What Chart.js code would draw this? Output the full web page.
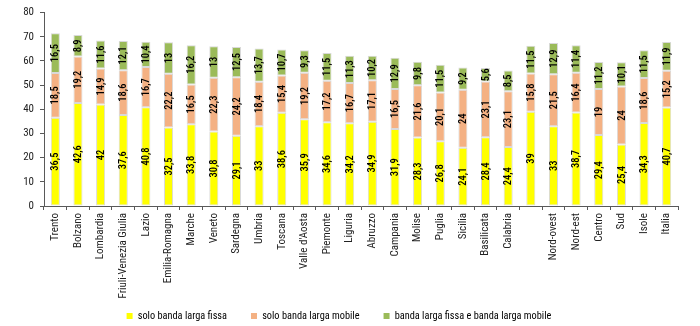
<!DOCTYPE html>
<html>
<head>
<meta charset="utf-8">
<script src="https://cdn.jsdelivr.net/npm/chart.js@4/dist/chart.umd.min.js"></script>
<style>
  html, body { margin: 0; padding: 0; background: #fff; }
  #wrap { width: 700px; height: 326px; }
</style>
</head>
<body>
<div id="wrap"><canvas id="chart" width="700" height="326"></canvas></div>
<script>
// the source chart has a blank label after Calabria, the bars themselves run on without a gap
const regions = ["Trento", "Bolzano", "Lombardia", "Friuli-Venezia Giulia", "Lazio", "Emilia-Romagna", "Marche", "Veneto", "Sardegna", "Umbria", "Toscana", "Valle d'Aosta", "Piemonte", "Liguria", "Abruzzo", "Campania", "Molise", "Puglia", "Sicilia", "Basilicata", "Calabria", "", "Nord-ovest", "Nord-est", "Centro", "Sud", "Isole", "Italia"];

const soloFissa = [36.5, 42.6, 42, 37.6, 40.8, 32.5, 33.8, 30.8, 29.1, 33, 38.6, 35.9, 34.6, 34.2, 34.9, 31.9, 28.3, 26.8, 24.1, 28.4, 24.4, 39, 33, 38.7, 29.4, 25.4, 34.3, 40.7];
const soloMobile = [18.5, 19.2, 14.9, 18.6, 16.7, 22.2, 16.5, 22.3, 24.2, 18.4, 15.4, 19.2, 17.2, 16.7, 17.1, 16.5, 21.6, 20.1, 24, 23.1, 23.1, 15.8, 21.5, 16.4, 19, 24, 18.6, 15.2];
const fissaEMobile = [16.5, 8.9, 11.6, 12.1, 10.4, 13, 16.2, 13, 12.5, 13.7, 10.7, 9.3, 11.5, 11.3, 10.2, 12.9, 9.8, 11.5, 9.2, 5.6, 8.5, 11.5, 12.9, 11.4, 11.2, 10.1, 11.5, 11.9];

const seriesNames = ["solo banda larga fissa", "solo banda larga mobile", "banda larga fissa e banda larga mobile"];
const seriesColors = ["#FFFF00", "#F4B183", "#9BBB59"];

const FONT = "'Roboto Condensed', 'Liberation Sans', Arial, sans-serif";
const LEGEND_SIZE = 10.3;
const LEGEND_PAD = 24;
Chart.defaults.font.family = FONT;
Chart.defaults.color = "#222";

// values written inside each segment, turned on their side
const barLabels = {
  id: "barLabels",
  afterDatasetsDraw(chart) {
    const ctx = chart.ctx;
    ctx.save();
    ctx.font = "500 10.5px " + FONT;
    ctx.fillStyle = "#000";
    ctx.textAlign = "center";
    ctx.textBaseline = "middle";
    chart.data.datasets.forEach((ds, i) => {
      const meta = chart.getDatasetMeta(i);
      meta.data.forEach((el, j) => {
        const v = ds.data[j];
        if (v === null || v === undefined) return;
        const p = el.getProps(["x", "y", "base"], true);
        ctx.save();
        ctx.translate(p.x, (p.y + p.base) / 2);
        ctx.rotate(-Math.PI / 2);
        ctx.fillText(String(v).replace(".", ","), 0, 0.5);
        ctx.restore();
      });
    });
    ctx.restore();
  }
};

// legend takes little room in the layout (so the long x labels are not clipped),
// then its box is stretched down to the bottom edge
const legendShift = {
  id: "legendShift",
  beforeLayout(chart) {
    const lg = chart.legend;
    if (!lg || lg._slim) return;
    const fit = lg.fit;
    lg.fit = function () {
      fit.call(this);
      this.height = 12;
    };
    lg._slim = true;
  },
  afterLayout(chart) {
    const lg = chart.legend;
    if (!lg) return;
    lg.top = 316 - LEGEND_PAD - LEGEND_SIZE / 2;
    lg.bottom = chart.height;
    lg.height = lg.bottom - lg.top;
  }
};

const makeSet = (i, data) => ({
  label: seriesNames[i],
  data: data,
  backgroundColor: seriesColors[i],
  borderColor: "#D9D9D9",
  borderWidth: 1,
  borderSkipped: false,
  barPercentage: 0.4,
  categoryPercentage: 1.0,
});

new Chart(document.getElementById("chart"), {
  type: "bar",
  data: {
    labels: regions,
    datasets: [
      makeSet(0, soloFissa),
      makeSet(1, soloMobile),
      makeSet(2, fissaEMobile),
    ],
  },
  options: {
    responsive: false,
    animation: false,
    layout: { padding: { top: 0, right: 22, left: 0, bottom: 0 } },
    plugins: {
      tooltip: { enabled: false },
      legend: {
        position: "bottom",
        labels: {
          boxWidth: 6,
          boxHeight: 6,
          padding: LEGEND_PAD,
          color: "#222",
          font: { size: LEGEND_SIZE },
          generateLabels(chart) {
            return chart.data.datasets.map((ds, i) => ({
              text: ds.label,
              fillStyle: ds.backgroundColor,
              strokeStyle: ds.backgroundColor,
              lineWidth: 0,
              datasetIndex: i,
              hidden: false,
            }));
          },
        },
      },
    },
    scales: {
      x: {
        stacked: true,
        grid: { drawOnChartArea: false, drawTicks: true, tickLength: 4, color: "#595959", offset: true },
        border: { color: "#595959" },
        ticks: {
          autoSkip: false,
          maxRotation: 90,
          minRotation: 90,
          padding: 3,
          color: "#222",
          font: { size: 11 },
        },
        afterFit(s) { s.height = 120 - (s.chart.legend ? s.chart.legend.height : 0); },
      },
      y: {
        stacked: true,
        min: 0,
        max: 80,
        grid: { drawOnChartArea: false, drawTicks: true, tickLength: 4, color: "#595959" },
        border: { color: "#595959" },
        ticks: { stepSize: 10, padding: 6, color: "#222", font: { size: 11 } },
        afterFit(s) { s.width = 44; },
      },
    },
  },
  plugins: [barLabels, legendShift],
});
</script>
</body>
</html>
